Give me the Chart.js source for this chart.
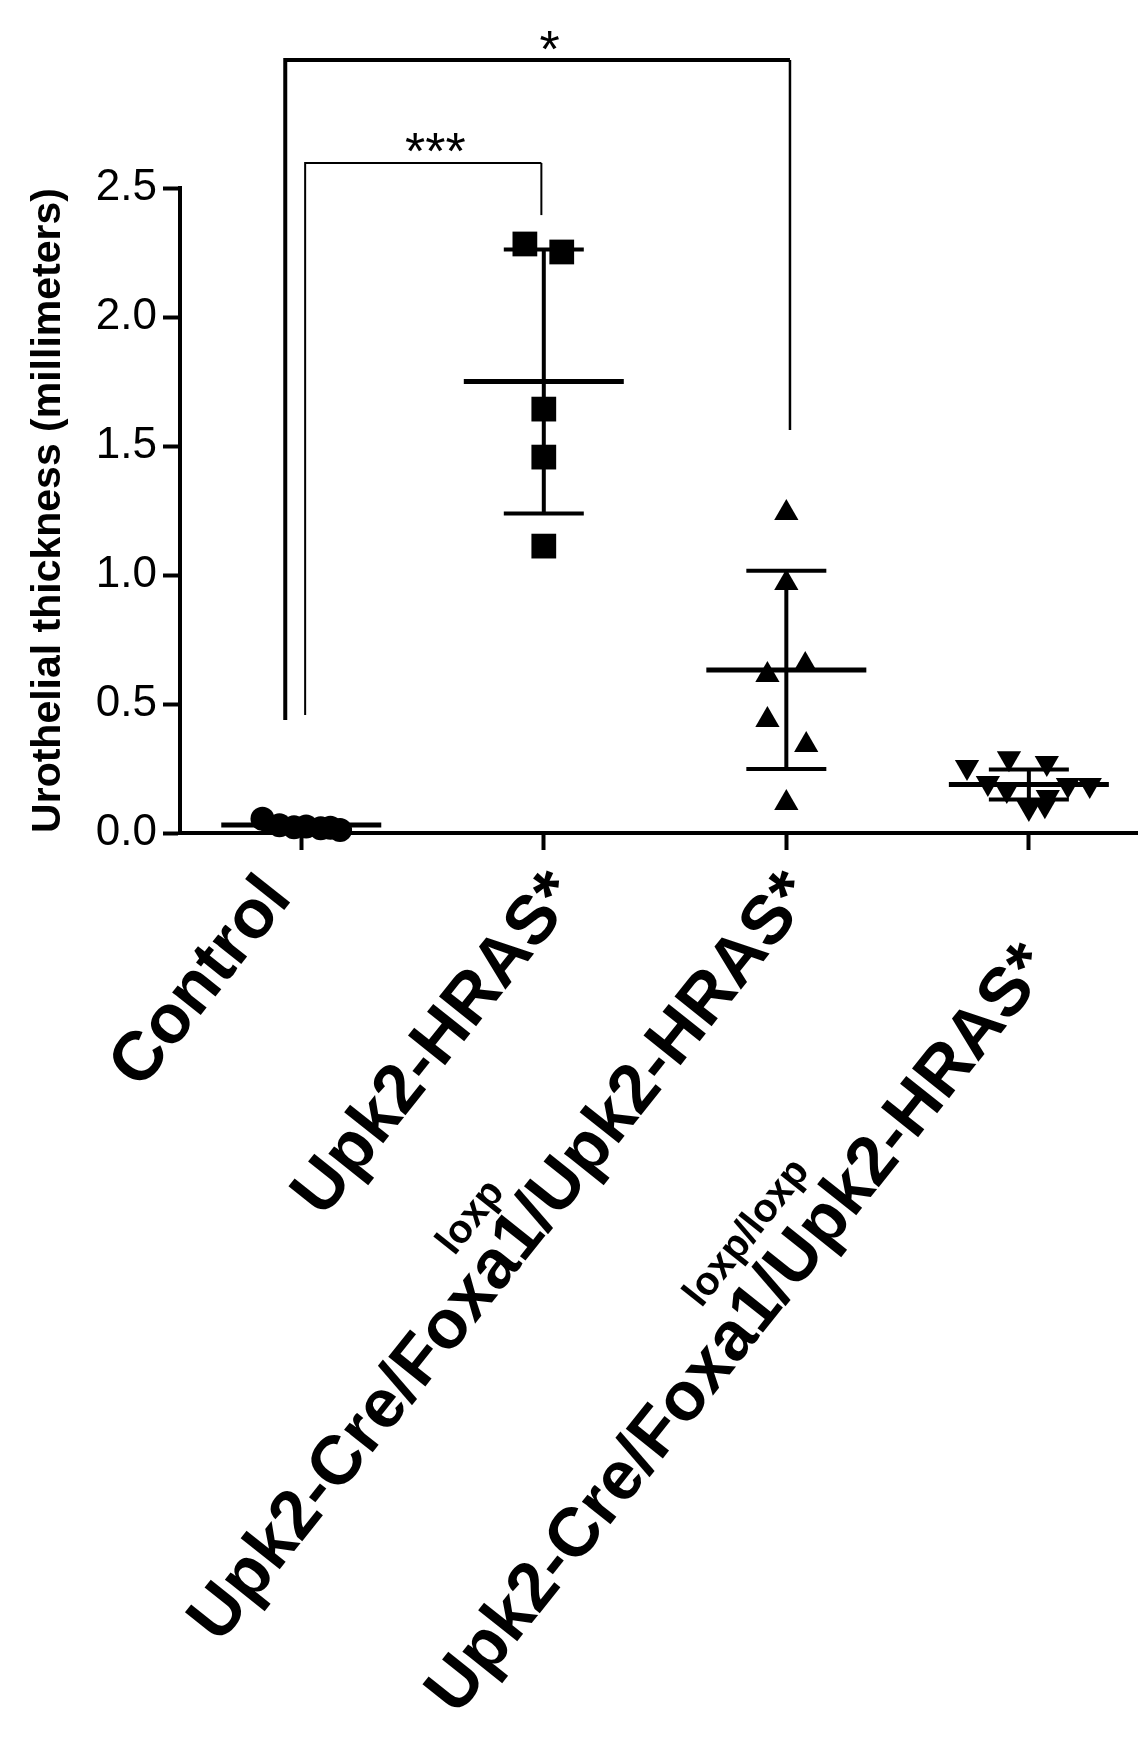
<!DOCTYPE html>
<html>
<head>
<meta charset="utf-8">
<script src="https://cdn.jsdelivr.net/npm/chart.js@4.4.1/dist/chart.umd.min.js"></script>
<style>
html,body{margin:0;padding:0;background:#fff;}
#wrap{width:1138px;height:1763px;position:relative;}
canvas{display:block;}
</style>
</head>
<body>
<div id="wrap"><canvas id="c" width="1138" height="1763"></canvas></div>
<script>
// ---------- data ----------
const categories = ['Control', 'Upk2-HRAS*', 'Upk2-Cre/Foxa1/Upk2-HRAS*', 'Upk2-Cre/Foxa1/Upk2-HRAS*'];
const superscripts = ['', '', 'loxp', 'loxp/loxp'];
const yTickValues = [0, 0.5, 1.0, 1.5, 2.0, 2.5];
const yAxisTitle = 'Urothelial thickness (millimeters)';

const controlValues = [0.055, 0.030, 0.022, 0.025, 0.018, 0.020, 0.012];
const controlJitter = [-0.16, -0.09, -0.03, 0.02, 0.08, 0.12, 0.16];

const hrasValues = [2.283, 2.252, 1.643, 1.457, 1.112];
const hrasJitter = [-0.078, 0.074, 0.0, 0.0, 0.0];

const foxaHetValues = [1.240, 0.969, 0.651, 0.612, 0.438, 0.341, 0.116];
const foxaHetJitter = [0.0, 0.0, 0.078, -0.078, -0.078, 0.082, 0.0];

const foxaHomValues = [0.256, 0.290, 0.271, 0.194, 0.167, 0.140, 0.186, 0.186, 0.097, 0.108];
const foxaHomJitter = [-0.255, -0.082, 0.074, -0.169, -0.091, 0.078, 0.161, 0.251, 0.0, 0.066];

const groupMeans = [0.031, 1.750, 0.632, 0.188];
const groupSDs = [0.016, 0.512, 0.384, 0.058];

// significance brackets (x in category units, y in millimeters)
const compLabels = ['***', '*'];
const compLeftX = [0.016, -0.066];
const compRightX = [0.99, 2.015];
const compLevel = [2.597, 2.996];
const compLeftEnd = [0.457, 0.438];
const compRightEnd = [2.395, 1.562];

// ---------- styles ----------
const FONT = '"Liberation Sans", Arial, Helvetica, sans-serif';
const LABEL_ANGLE = 51.5 * Math.PI / 180;
const LABEL_SIZE = 69, SUP_SIZE = 40;
const labelDX = [-23, 22, 15, 10];
const labelDY = [54, 50, 50, 122];
const supAlong = [0, 0, 12, 80];
const supRaise = [0, 0, 50, 55];
const MEAN_HALF = 80, CAP_HALF = 40;
const bracketWidths = [2, 4];
const bracketRightWidths = [2, 2.5];

function toPoints(vals, jit, idx) {
  return vals.map((v, k) => ({ x: idx + jit[k], y: v }));
}

const bgPlugin = {
  id: 'bg',
  beforeDraw(chart) {
    const ctx = chart.ctx;
    ctx.save();
    ctx.fillStyle = '#fff';
    ctx.fillRect(0, 0, chart.width, chart.height);
    ctx.restore();
  }
};

const errorBarPlugin = {
  id: 'errbars',
  afterDatasetsDraw(chart) {
    const ctx = chart.ctx, xs = chart.scales.x, ys = chart.scales.y;
    ctx.save();
    ctx.strokeStyle = '#000';
    ctx.lineCap = 'butt';
    groupMeans.forEach((m, i) => {
      const cx = xs.getPixelForValue(i);
      const ym = ys.getPixelForValue(m);
      const yt = ys.getPixelForValue(m + groupSDs[i]);
      const yb = ys.getPixelForValue(m - groupSDs[i]);
      ctx.lineWidth = 4;
      ctx.beginPath(); ctx.moveTo(cx, yt); ctx.lineTo(cx, yb); ctx.stroke();
      ctx.beginPath(); ctx.moveTo(cx - CAP_HALF, yt); ctx.lineTo(cx + CAP_HALF, yt); ctx.stroke();
      ctx.beginPath(); ctx.moveTo(cx - CAP_HALF, yb); ctx.lineTo(cx + CAP_HALF, yb); ctx.stroke();
      ctx.lineWidth = 5;
      ctx.beginPath(); ctx.moveTo(cx - MEAN_HALF, ym); ctx.lineTo(cx + MEAN_HALF, ym); ctx.stroke();
    });
    ctx.restore();
  }
};

const annotPlugin = {
  id: 'annot',
  afterDraw(chart) {
    const ctx = chart.ctx, xs = chart.scales.x, ys = chart.scales.y;
    const area = chart.chartArea;
    ctx.save();
    ctx.fillStyle = '#000';
    ctx.strokeStyle = '#000';

    // brackets
    compLabels.forEach((lab, k) => {
      const x1 = xs.getPixelForValue(compLeftX[k]);
      const x2 = xs.getPixelForValue(compRightX[k]);
      const yl = ys.getPixelForValue(compLevel[k]);
      const y1 = ys.getPixelForValue(compLeftEnd[k]);
      const y2 = ys.getPixelForValue(compRightEnd[k]);
      ctx.lineWidth = bracketWidths[k];
      ctx.lineJoin = 'miter';
      ctx.beginPath(); ctx.moveTo(x1, y1); ctx.lineTo(x1, yl); ctx.lineTo(x2, yl); ctx.stroke();
      ctx.lineWidth = bracketRightWidths[k];
      ctx.beginPath(); ctx.moveTo(x2, yl); ctx.lineTo(x2, y2); ctx.stroke();
      ctx.font = 'normal 52px ' + FONT;
      ctx.textAlign = 'center';
      ctx.textBaseline = 'alphabetic';
      const mt = ctx.measureText(lab);
      const center = yl - 20;
      const base = center - (mt.actualBoundingBoxDescent - mt.actualBoundingBoxAscent) / 2;
      ctx.fillText(lab, (x1 + x2) / 2 + 12, base);
    });

    // x category labels (rotated, with superscript line)
    categories.forEach((lab, i) => {
      const px = xs.getPixelForValue(i) + labelDX[i];
      const py = area.bottom + labelDY[i];
      ctx.save();
      ctx.translate(px, py);
      ctx.rotate(-LABEL_ANGLE);
      ctx.font = 'bold ' + LABEL_SIZE + 'px ' + FONT;
      ctx.textAlign = 'right';
      ctx.textBaseline = 'middle';
      ctx.fillText(lab, 0, 0);
      if (superscripts[i]) {
        const w = ctx.measureText(lab).width;
        ctx.font = 'bold ' + SUP_SIZE + 'px ' + FONT;
        ctx.textAlign = 'center';
        ctx.textBaseline = 'middle';
        ctx.fillText(superscripts[i], -w / 2 + supAlong[i], -supRaise[i]);
      }
      ctx.restore();
    });

    // y axis title
    ctx.save();
    ctx.translate(49, (area.top + area.bottom) / 2);
    ctx.rotate(-Math.PI / 2);
    ctx.font = 'bold 41px ' + FONT;
    ctx.textAlign = 'center';
    ctx.textBaseline = 'middle';
    ctx.fillText(yAxisTitle, 0, 0);
    ctx.restore();

    ctx.restore();
  }
};

const ctx = document.getElementById('c').getContext('2d');
new Chart(ctx, {
  type: 'scatter',
  data: {
    datasets: [
      { label: categories[0], data: toPoints(controlValues, controlJitter, 0), pointStyle: 'circle', pointRadius: 12 },
      { label: categories[1], data: toPoints(hrasValues, hrasJitter, 1), pointStyle: 'rect', pointRadius: 17.5 },
      { label: categories[2], data: toPoints(foxaHetValues, foxaHetJitter, 2), pointStyle: 'triangle', pointRadius: 14 },
      { label: categories[3], data: toPoints(foxaHomValues, foxaHomJitter, 3), pointStyle: 'triangle', pointRadius: 14, pointRotation: 180 }
    ].map(d => Object.assign(d, { backgroundColor: '#000', borderColor: '#000', borderWidth: 0, pointHoverRadius: d.pointRadius, clip: false }))
  },
  options: {
    responsive: false,
    animation: false,
    devicePixelRatio: 1,
    layout: { autoPadding: false, padding: { top: 188, left: 0, right: 0, bottom: 0 } },
    plugins: { legend: { display: false }, tooltip: { enabled: false } },
    scales: {
      x: {
        type: 'linear',
        min: -0.5,
        max: 3.45,
        afterBuildTicks(scale) { scale.ticks = categories.map((c, i) => ({ value: i })); },
        afterFit(scale) { scale.height = 1763 - 833; },
        ticks: { display: false },
        grid: { display: true, drawOnChartArea: false, drawTicks: true, tickLength: 17, tickWidth: 4, tickColor: '#000' },
        border: { display: true, width: 4, color: '#000' }
      },
      y: {
        type: 'linear',
        min: 0,
        max: 2.5,
        afterBuildTicks(scale) { scale.ticks = yTickValues.map(v => ({ value: v })); },
        afterFit(scale) { scale.width = 180; },
        ticks: {
          color: '#000',
          padding: 6,
          font: { family: FONT, size: 44, weight: 'normal' },
          callback: v => Number(v).toFixed(1)
        },
        grid: { display: true, drawOnChartArea: false, drawTicks: true, tickLength: 17, tickWidth: 4, tickColor: '#000' },
        border: { display: true, width: 4, color: '#000' }
      }
    }
  },
  plugins: [bgPlugin, errorBarPlugin, annotPlugin]
});
</script>
</body>
</html>
